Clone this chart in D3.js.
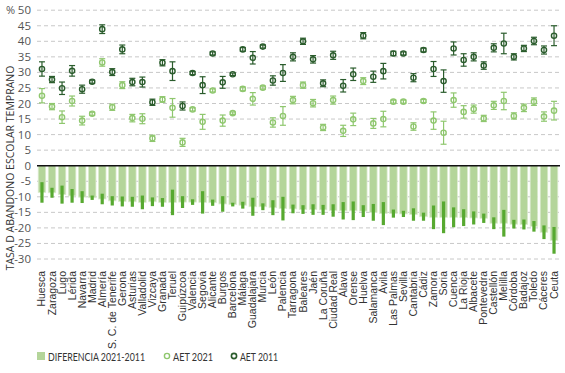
<!DOCTYPE html>
<html>
<head>
<meta charset="utf-8">
<script src="https://cdn.jsdelivr.net/npm/d3@7"></script>
<style>
  html, body { margin: 0; padding: 0; background: #fff; }
  svg { display: block; }
</style>
</head>
<body>
<svg id="chart" width="565" height="373"></svg>
<script>
const provinces = ["Huesca","Zaragoza","Lugo","Lérida","Navarra","Madrid","Almería","S. C. de Tenerife","Gerona","Asturias","Valladolid","Vizcaya","Granada","Teruel","Guipúzcoa","Valencia","Segovia","Alicante","Burgos","Barcelona","Málaga","Guadalajara","Murcia","León","Palencia","Tarragona","Baleares","Jaén","La Coruña","Ciudad Real","Álava","Orense","Huelva","Salamanca","Ávila","Las Palmas","Sevilla","Cantabria","Cádiz","Zamora","Soria","Cuenca","La Rioja","Albacete","Pontevedra","Castellón","Melilla","Córdoba","Badajoz","Toledo","Cáceres","Ceuta"];

const aet2021 = [22.5,19.0,15.6,20.8,14.5,16.7,33.2,18.8,25.9,15.3,15.1,8.8,21.3,18.6,7.5,18.1,14.1,24.2,14.5,16.9,24.7,21.5,25.1,13.9,16.0,21.1,25.9,20.1,12.3,21.1,11.2,14.9,27.2,13.6,15.0,20.6,20.6,12.6,20.8,14.5,10.6,21.1,17.3,18.2,15.2,19.4,20.8,16.0,18.6,20.6,15.8,17.7];
const err2021 = [2.3,1.0,2.0,1.6,1.4,0.5,1.2,1.0,1.1,1.2,1.6,1.0,0.9,3.0,1.3,0.5,2.4,0.5,1.8,0.4,0.6,2.0,0.5,1.5,3.0,1.2,1.0,1.2,1.0,1.3,1.8,2.0,1.1,1.6,2.5,0.5,0.5,1.2,0.5,2.8,3.7,2.3,2.0,1.3,1.0,1.3,2.8,1.0,1.2,1.2,1.5,3.0];

const aet2011 = [31.1,27.7,24.9,30.5,24.6,27.0,43.9,30.1,37.4,26.9,26.9,20.4,33.1,30.4,19.2,29.8,25.9,36.1,26.8,29.4,37.4,34.7,38.3,27.4,29.8,35.0,40.0,34.2,26.5,35.5,25.7,29.4,41.8,28.6,30.4,36.1,36.1,28.3,37.2,31.1,27.2,37.7,34.0,35.0,32.2,37.9,39.3,35.0,37.7,40.1,37.2,41.8];
const err2011 = [2.3,1.0,2.0,1.7,1.3,0.5,1.4,1.1,1.4,1.2,1.6,1.0,1.0,3.0,1.3,0.5,2.7,0.5,1.9,0.4,0.6,2.0,0.5,1.5,2.7,1.3,1.0,1.2,1.1,1.3,2.0,2.0,1.0,1.8,2.5,0.7,0.5,1.3,0.6,2.4,3.6,2.1,2.0,1.3,1.2,1.3,3.3,1.0,1.0,1.2,1.3,3.2];

const diff = [-8.6,-8.7,-9.3,-9.7,-10.1,-10.3,-10.7,-11.3,-11.5,-11.6,-11.8,-11.6,-11.8,-11.8,-11.7,-11.7,-11.8,-11.9,-12.3,-12.5,-12.7,-13.2,-13.2,-13.5,-13.8,-13.9,-14.1,-14.1,-14.2,-14.4,-14.5,-14.5,-14.6,-15.0,-15.4,-15.4,-15.5,-15.7,-16.4,-16.6,-16.6,-16.6,-16.7,-16.8,-16.9,-18.5,-18.5,-18.8,-18.9,-19.5,-21.4,-24.0];
const diffErr = [3.3,1.6,2.9,2.2,1.9,0.7,1.7,1.5,1.6,1.6,2.2,1.4,1.4,4.1,1.9,0.9,3.6,1.0,2.5,0.6,1.1,2.9,1.1,2.4,3.8,1.4,1.4,1.7,1.6,2.0,2.8,3.0,1.9,2.7,3.7,1.3,1.0,2.0,1.3,3.8,5.1,3.2,2.7,2.1,1.5,1.9,4.3,1.4,1.6,1.7,2.2,4.3];

const yTicks = [50,45,40,35,30,25,20,15,10,5,0,-5,-10,-15,-20,-25,-30];

const legendLabels = ["DIFERENCIA 2021-2011","AET 2021","AET 2011"];

const C = {
  bar: "#b4d59a",
  barStroke: "#dcebd0",
  diffErr: "#57a930",
  light: "#8fc76e",
  dark: "#2a5c2c",
  grid: "#c8c8c8",
  text: "#444"
};

const data = provinces.map((p, i) => ({
  p, v21: aet2021[i], e21: err2021[i], v11: aet2011[i], e11: err2011[i], d: diff[i], de: diffErr[i]
}));

const svg = d3.select("#chart");
const left = 37, right = 560;

const x = d3.scaleBand().domain(provinces).range([left, 559]).paddingInner(0.25).paddingOuter(0.12);
const y = d3.scaleLinear().domain([-30, 50]).range([259, 10.2]);
const cx = d => x(d.p) + x.bandwidth() / 2;

// gridlines
svg.append("g").selectAll("line").data(yTicks.filter(t => t !== 0)).join("line")
  .attr("x1", left).attr("x2", right)
  .attr("y1", d => y(d)).attr("y2", d => y(d))
  .attr("stroke", C.grid).attr("stroke-width", 1).attr("stroke-dasharray", "4,3");

// y tick labels
svg.append("g").selectAll("text").data(yTicks).join("text")
  .attr("x", 31).attr("y", d => y(d)).attr("dy", "0.35em")
  .attr("text-anchor", "end")
  .attr("font-family", "Open Sans, sans-serif").attr("font-size", 11.5)
  .attr("fill", "#555")
  .text(d => d);

svg.append("text").attr("x", 6).attr("y", y(50)).attr("dy", "0.35em")
  .attr("font-family", "Open Sans, sans-serif").attr("font-size", 11).attr("fill", "#555").text("%");

// y axis title
svg.append("text")
  .attr("transform", "translate(14,168) rotate(-90)")
  .attr("text-anchor", "middle")
  .attr("font-family", "Open Sans, sans-serif").attr("font-size", 10.5)
  .attr("fill", "#333")
  .text("TASA D ABANDONO ESCOLAR TEMPRANO");

// difference bars
svg.append("g").selectAll("rect").data(data).join("rect")
  .attr("x", d => x(d.p)).attr("width", x.bandwidth())
  .attr("y", y(0)).attr("height", d => y(d.d) - y(0))
  .attr("fill", C.bar).attr("stroke", C.barStroke).attr("stroke-width", 0.8);

// difference error bars
svg.append("g").selectAll("rect").data(data).join("rect")
  .attr("x", d => cx(d) - 1.6).attr("width", 3.2)
  .attr("y", d => y(d.d + d.de)).attr("height", d => y(d.d - d.de) - y(d.d + d.de))
  .attr("fill", C.diffErr);

// zero line
svg.append("line").attr("x1", left).attr("x2", right).attr("y1", y(0)).attr("y2", y(0))
  .attr("stroke", "#111").attr("stroke-width", 1.6);

// point series with error bars
function drawSeries(key, errKey, color) {
  const g = svg.append("g");
  const cap = 3;
  g.selectAll("line.v").data(data).join("line").attr("class", "v")
    .attr("x1", cx).attr("x2", cx)
    .attr("y1", d => y(d[key] + d[errKey])).attr("y2", d => y(d[key] - d[errKey]))
    .attr("stroke", color).attr("stroke-width", 1.2);
  g.selectAll("line.t").data(data).join("line").attr("class", "t")
    .attr("x1", d => cx(d) - cap).attr("x2", d => cx(d) + cap)
    .attr("y1", d => y(d[key] + d[errKey])).attr("y2", d => y(d[key] + d[errKey]))
    .attr("stroke", color).attr("stroke-width", 1.2);
  g.selectAll("line.b").data(data).join("line").attr("class", "b")
    .attr("x1", d => cx(d) - cap).attr("x2", d => cx(d) + cap)
    .attr("y1", d => y(d[key] - d[errKey])).attr("y2", d => y(d[key] - d[errKey]))
    .attr("stroke", color).attr("stroke-width", 1.2);
  g.selectAll("circle").data(data).join("circle")
    .attr("cx", cx).attr("cy", d => y(d[key])).attr("r", 2.6)
    .attr("fill", "none").attr("stroke", color).attr("stroke-width", 1.4);
}
drawSeries("v21", "e21", C.light);
drawSeries("v11", "e11", C.dark);

// x labels
svg.append("g").selectAll("text").data(provinces).join("text")
  .attr("transform", d => `translate(${x(d) + x.bandwidth() / 2 + 3.5},271) rotate(-90)`)
  .attr("text-anchor", "end")
  .attr("font-family", "Liberation Sans, Arial, sans-serif").attr("font-size", 10.5)
  .attr("fill", "#333")
  .text(d => d);

// legend
const lg = svg.append("g").attr("font-family", "Lato, sans-serif").attr("font-size", 11).attr("fill", "#333");
lg.append("rect").attr("x", 37).attr("y", 352).attr("width", 8).attr("height", 8).attr("fill", C.bar);
lg.append("text").attr("x", 48).attr("y", 360.5).attr("textLength", 97).attr("lengthAdjust", "spacingAndGlyphs").text(legendLabels[0]);
lg.append("circle").attr("cx", 167).attr("cy", 356).attr("r", 2.6).attr("fill", "none").attr("stroke", C.light).attr("stroke-width", 1.4);
lg.append("text").attr("x", 173).attr("y", 360.5).attr("textLength", 40).attr("lengthAdjust", "spacingAndGlyphs").text(legendLabels[1]);
lg.append("circle").attr("cx", 234).attr("cy", 356).attr("r", 2.6).attr("fill", "none").attr("stroke", C.dark).attr("stroke-width", 1.6);
lg.append("text").attr("x", 240).attr("y", 360.5).attr("textLength", 38).attr("lengthAdjust", "spacingAndGlyphs").text(legendLabels[2]);
</script>
</body>
</html>
